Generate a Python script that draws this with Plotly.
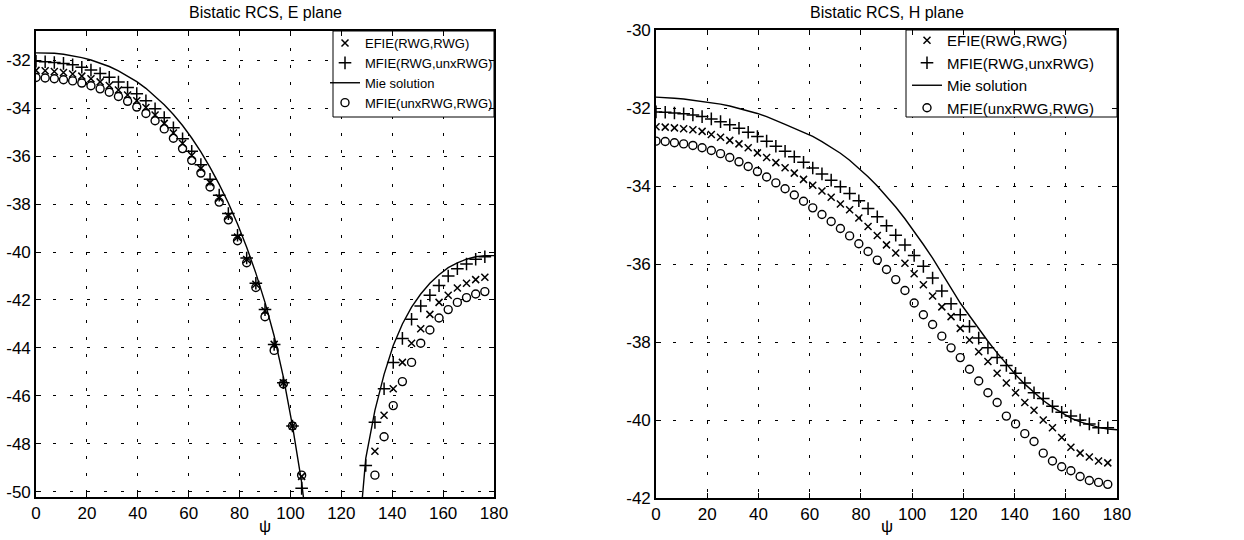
import plotly.graph_objects as go

# sample angles (deg)
psi = [0, 3.6, 7.2, 10.8, 14.4, 18, 21.6, 25.2, 28.8, 32.4,
       36, 39.6, 43.2, 46.8, 50.4, 54, 57.6, 61.2, 64.8, 68.4,
       72, 75.6, 79.2, 82.8, 86.4, 90, 93.6, 97.2, 100.8, 104.4,
       108, 111.6, 115.2, 118.8, 122.4, 126, 129.6, 133.2, 136.8, 140.4,
       144, 147.6, 151.2, 154.8, 158.4, 162, 165.6, 169.2, 172.8, 176.4]
psi_mie = psi + [180]

# ---- E plane ----
e_efie = [-32.43, -32.45, -32.48, -32.52, -32.58, -32.67, -32.78, -32.91, -33.06, -33.25,
          -33.46, -33.70, -33.98, -34.29, -34.64, -35.04, -35.48, -35.98, -36.52, -37.11,
          -37.75, -38.50, -39.38, -40.31, -41.34, -42.45, -43.85, -45.45, -47.25, -49.35,
          None, None, None, None, None, None, None, -48.30, -46.80, -45.70,
          -44.60, -43.80, -43.20, -42.60, -42.10, -41.80, -41.50, -41.30, -41.15, -41.05]
e_mfie = [-32.05, -32.07, -32.10, -32.14, -32.20, -32.30, -32.42, -32.56, -32.72, -32.92,
          -33.14, -33.40, -33.70, -34.03, -34.40, -34.82, -35.28, -35.80, -36.36, -36.97,
          -37.63, -38.40, -39.30, -40.25, -41.30, -42.40, -43.85, -45.45, -47.25, -49.85,
          None, None, None, None, None, None, -48.90, -47.10, -45.70, -44.60,
          -43.60, -42.80, -42.25, -41.80, -41.40, -41.00, -40.70, -40.50, -40.30, -40.20]
e_mie = [-31.70, -31.70, -31.72, -31.76, -31.82, -31.90, -32.00, -32.12, -32.27, -32.45,
         -32.66, -32.90, -33.18, -33.50, -33.86, -34.27, -34.73, -35.25, -35.83, -36.47,
         -37.18, -37.96, -38.83, -39.80, -40.88, -42.10, -43.50, -45.20, -47.25, -49.60,
         -52.40, -56.00, -62.00, -63.00, -57.00, -53.00, -48.60, -46.60, -45.10, -43.90,
         -43.00, -42.30, -41.75, -41.30, -40.95, -40.65, -40.45, -40.30, -40.20, -40.15,
         -40.15]
e_mfie2 = [-32.73, -32.75, -32.78, -32.82, -32.87, -32.96, -33.07, -33.20, -33.34, -33.52,
           -33.72, -33.96, -34.23, -34.53, -34.87, -35.26, -35.69, -36.18, -36.71, -37.29,
           -37.92, -38.66, -39.53, -40.45, -41.48, -42.70, -44.10, -45.50, -47.25, -49.30,
           None, None, None, None, None, None, None, -49.30, -47.70, -46.40,
           -45.40, -44.60, -43.80, -43.25, -42.75, -42.40, -42.10, -41.90, -41.75, -41.65]

# ---- H plane ----
h_efie = [-32.48, -32.49, -32.51, -32.53, -32.56, -32.60, -32.68, -32.75, -32.83, -32.92,
          -33.02, -33.15, -33.27, -33.40, -33.53, -33.67, -33.83, -33.98, -34.13, -34.29,
          -34.46, -34.61, -34.82, -35.04, -35.27, -35.51, -35.72, -35.98, -36.25, -36.53,
          -36.82, -37.10, -37.35, -37.65, -37.95, -38.25, -38.50, -38.80, -39.05, -39.30,
          -39.55, -39.75, -40.00, -40.20, -40.45, -40.70, -40.85, -40.95, -41.05, -41.10]
h_mfie = [-32.10, -32.11, -32.13, -32.15, -32.18, -32.22, -32.28, -32.35, -32.43, -32.52,
          -32.62, -32.73, -32.85, -32.98, -33.11, -33.25, -33.39, -33.54, -33.69, -33.85,
          -34.02, -34.19, -34.38, -34.58, -34.79, -35.02, -35.26, -35.51, -35.78, -36.06,
          -36.36, -36.69, -37.02, -37.30, -37.60, -37.90, -38.15, -38.40, -38.60, -38.80,
          -39.05, -39.30, -39.45, -39.65, -39.80, -39.90, -40.00, -40.10, -40.20, -40.20]
h_mie = [-31.72, -31.73, -31.75, -31.77, -31.80, -31.83, -31.86, -31.90, -31.95, -32.01,
         -32.07, -32.14, -32.22, -32.31, -32.42, -32.52, -32.62, -32.73, -32.86, -33.00,
         -33.16, -33.34, -33.54, -33.76, -34.00, -34.26, -34.54, -34.84, -35.16, -35.50,
         -35.85, -36.22, -36.62, -37.00, -37.33, -37.66, -37.98, -38.28, -38.57, -38.84,
         -39.08, -39.30, -39.50, -39.67, -39.82, -39.95, -40.05, -40.13, -40.19, -40.23,
         -40.25]
h_mfie2 = [-32.85, -32.86, -32.89, -32.92, -32.96, -33.02, -33.09, -33.17, -33.27, -33.38,
           -33.50, -33.63, -33.77, -33.92, -34.07, -34.23, -34.39, -34.56, -34.73, -34.91,
           -35.09, -35.28, -35.48, -35.68, -35.90, -36.14, -36.40, -36.68, -37.00, -37.30,
           -37.55, -37.85, -38.15, -38.40, -38.70, -39.00, -39.30, -39.55, -39.90, -40.10,
           -40.35, -40.55, -40.85, -41.05, -41.20, -41.30, -41.45, -41.55, -41.60, -41.65]

names = ["EFIE(RWG,RWG)", "MFIE(RWG,unxRWG)", "Mie solution", "MFIE(unxRWG,RWG)"]
titles = ["Bistatic RCS, E plane", "Bistatic RCS, H plane"]
x_ticks = [0, 20, 40, 60, 80, 100, 120, 140, 160, 180]
e_yticks = [-50, -48, -46, -44, -42, -40, -38, -36, -34, -32]
h_yticks = [-42, -40, -38, -36, -34, -32, -30]

W, H = 1244, 540
FONT = "Liberation Sans, Arial, sans-serif"

# plot-area pixel boxes (left, right, top, bottom) and y ranges
L = (36, 494, 31, 497)
R = (656, 1117, 30, 498)
E_RANGE = [-50.21, -30.79]
H_RANGE = [-42, -30]
# legend frame pixel boxes (left, right, top, bottom)
LEG_L = (333, 494, 31, 117)
LEG_R = (906, 1117, 30, 117)

fig = go.Figure()


def px_to_data(box, yr, px, py):
    x = (px - box[0]) / (box[1] - box[0]) * 180
    y = yr[1] - (py - box[2]) / (box[3] - box[2]) * (yr[1] - yr[0])
    return x, y


def add_frame(fig, xa, ya, box, yr, leg):
    x0, y0 = px_to_data(box, yr, leg[0], leg[3])
    x1, y1 = px_to_data(box, yr, leg[1], leg[2])
    fig.add_trace(go.Scatter(x=[x0, x1, x1, x0, x0], y=[y0, y0, y1, y1, y0],
                             mode="lines", fill="toself", fillcolor="white",
                             line=dict(color="black", width=1),
                             xaxis=xa, yaxis=ya, showlegend=False, hoverinfo="skip"))


def add_panel(fig, xa, ya, leg, efie, mfie, mie, mfie2):
    fig.add_trace(go.Scatter(x=psi, y=efie, mode="markers", name=names[0],
                             xaxis=xa, yaxis=ya, legend=leg,
                             marker=dict(symbol="x-thin", size=7, color="black",
                                         line=dict(width=1.5, color="black"))))
    fig.add_trace(go.Scatter(x=psi, y=mfie, mode="markers", name=names[1],
                             xaxis=xa, yaxis=ya, legend=leg,
                             marker=dict(symbol="cross-thin", size=9, color="black",
                                         line=dict(width=1.5, color="black"))))
    fig.add_trace(go.Scatter(x=psi_mie, y=mie, mode="lines", name=names[2],
                             xaxis=xa, yaxis=ya, legend=leg,
                             line=dict(color="black", width=1.4)))
    fig.add_trace(go.Scatter(x=psi, y=mfie2, mode="markers", name=names[3],
                             xaxis=xa, yaxis=ya, legend=leg,
                             marker=dict(symbol="circle-open", size=8, color="black",
                                         line=dict(width=1.4, color="black"))))


add_frame(fig, "x", "y", L, E_RANGE, LEG_L)
add_frame(fig, "x2", "y2", R, H_RANGE, LEG_R)
add_panel(fig, "x", "y", "legend", e_efie, e_mfie, e_mie, e_mfie2)
add_panel(fig, "x2", "y2", "legend2", h_efie, h_mfie, h_mie, h_mfie2)


def axis(domain, rng, ticks, anchor):
    return dict(domain=domain, range=rng, tickvals=ticks,
                ticktext=[str(t) for t in ticks], anchor=anchor,
                ticks="inside", ticklen=5, tickwidth=1, tickcolor="black",
                showline=True, linecolor="black", linewidth=1.6, mirror="ticks",
                showgrid=True, gridcolor="black", gridwidth=1, griddash="3px,14px",
                zeroline=False, automargin=False,
                tickfont=dict(family=FONT, size=17, color="black"))


fig.update_layout(
    width=W, height=H,
    margin=dict(l=0, r=0, t=0, b=0),
    paper_bgcolor="white", plot_bgcolor="white",
    font=dict(family=FONT, color="black"),
    xaxis=axis([L[0] / W, L[1] / W], [0, 180], x_ticks, "y"),
    yaxis=axis([1 - L[3] / H, 1 - L[2] / H], E_RANGE, e_yticks, "x"),
    xaxis2=axis([R[0] / W, R[1] / W], [0, 180], x_ticks, "y2"),
    yaxis2=axis([1 - R[3] / H, 1 - R[2] / H], H_RANGE, h_yticks, "x2"),
)

leg_style = dict(bgcolor="rgba(0,0,0,0)", borderwidth=0,
                 xanchor="left", yanchor="top", itemwidth=30, tracegroupgap=0)
fig.update_layout(
    legend=dict(x=325 / W, y=1 - 28 / H, font=dict(family=FONT, size=13, color="black"), **leg_style),
    legend2=dict(x=907 / W, y=1 - 24 / H, font=dict(family=FONT, size=15, color="black"), **leg_style),
)

for (x0, x1, y0, y1), t in zip([L, R], titles):
    cx = (x0 + x1) / 2 / W
    fig.add_annotation(text=t, x=cx, y=1 - 13 / H, xref="paper", yref="paper",
                       showarrow=False, xanchor="center", yanchor="middle",
                       font=dict(family=FONT, size=16, color="black"))
    fig.add_annotation(text="ψ", x=cx, y=1 - 526 / H, xref="paper", yref="paper",
                       showarrow=False, xanchor="center", yanchor="middle",
                       font=dict(family=FONT, size=17, color="black"))

fig.write_html("out.html")
